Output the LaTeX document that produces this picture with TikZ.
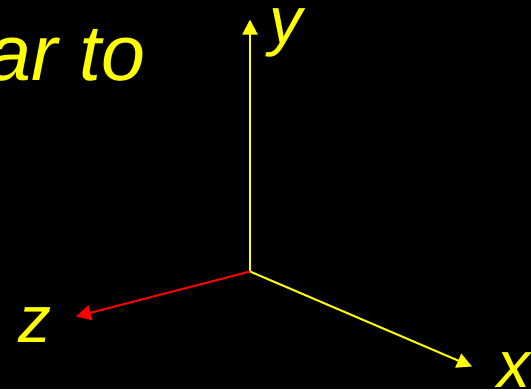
\documentclass[tikz,border=0pt]{standalone}
\usepackage{fontspec}
\setmainfont{Liberation Sans}
\usetikzlibrary{arrows.meta}
\definecolor{axyellow}{RGB}{255,255,0}
\definecolor{axred}{RGB}{255,0,0}
\tikzset{
  axis/.style={line width=2pt, -{Triangle[length=15pt,width=15pt]}},
  lbl/.style={text=axyellow, font=\fontsize{66}{70}\selectfont\itshape, inner sep=0pt, anchor=base west},
}
\begin{document}
\begin{tikzpicture}[x=1pt,y=-1pt]
\fill[black] (0,0) rectangle (531,389);
\useasboundingbox (0,0) rectangle (531,389);
\coordinate (o) at (250,271.5);
\coordinate (ytip) at (250,19.5);
\coordinate (xtip) at (472,366.5);
\coordinate (ztip) at (76,316.5);
\draw[axis, draw=axyellow, fill=axyellow] (o) -- (ytip);
\draw[axis, draw=axyellow, fill=axyellow] (o) -- (xtip);
\draw[axis, draw=axred, fill=axred] (o) -- (ztip);
\node[lbl] (ylbl) at (269,43) {y};
\node[lbl] (zlbl) at (18,342) {z};
\node[lbl] (xlbl) at (497,387) {x};
\node[text=axyellow, font=\fontsize{79}{83}\selectfont\itshape, inner sep=0pt, anchor=base east] (title) at (145.5,80) {ar to};
\end{tikzpicture}
\end{document}
